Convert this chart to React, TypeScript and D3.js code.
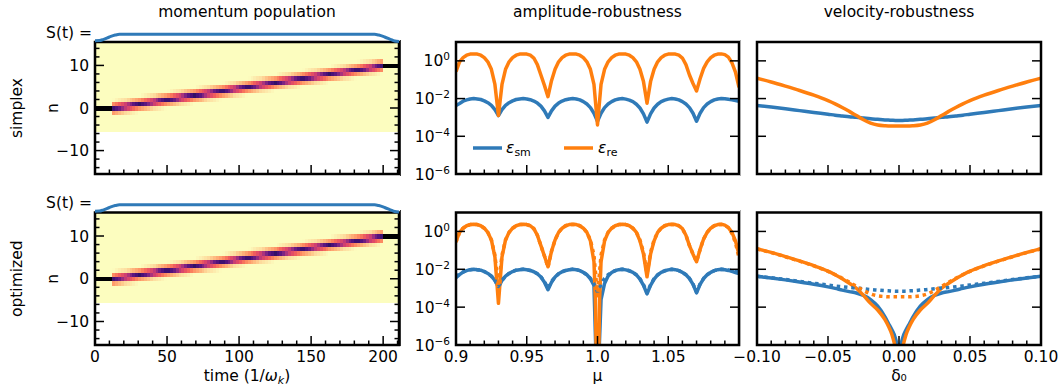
import React from 'react';
import * as d3 from 'd3';

const W = 1060;
const H = 388;
const FONT = 'DejaVu Sans, sans-serif';
const FS = 15.5;
const BLUE = '#2f7ab8';
const ORANGE = '#ff7f0e';

// ---- momentum population ----
const tEnd = 211;
const nRows = d3.range(-5, 16);
// times at which the population sits on n = 0, 1, ... 10
const stepTimes = [12, 31, 50, 69, 88, 106, 125, 144, 163, 182, 200];
// population vs distance from the band centre
const bandDist = [0, 0.25, 0.5, 1, 1.5, 2];
const bandPop = [0.82, 0.7, 0.45, 0.22, 0.07, 0];
// S(t) envelope
const sTimes = [0, 3, 6, 10, 14, 17, 194, 197, 201, 205, 208, 211];
const sVals = [0.17, 0.18, 0.35, 0.65, 0.9, 1, 1, 0.9, 0.65, 0.35, 0.12, 0.05];

// ---- amplitude robustness (log10 of error) ----
const muGrid = d3.range(81).map(i => +(0.9 + i * 0.0025).toFixed(4));
const ampSmSimplex = [
  -2.37, -2.26, -2.14, -2.07, -2.02, -2.0, -2.02, -2.05, -2.12, -2.22, -2.36, -2.59, -2.9,
  -2.59, -2.36, -2.22, -2.12, -2.05, -2.02, -2.0, -2.02, -2.06, -2.13, -2.24, -2.4, -2.65, -3.0,
  -2.65, -2.4, -2.24, -2.13, -2.06, -2.02, -2.0, -2.02, -2.07, -2.16, -2.29, -2.48, -2.78, -3.2,
  -2.78, -2.48, -2.29, -2.16, -2.07, -2.02, -2.0, -2.03, -2.08, -2.16, -2.3, -2.5, -2.81, -3.25,
  -2.81, -2.5, -2.3, -2.16, -2.08, -2.03, -2.0, -2.02, -2.07, -2.16, -2.29, -2.48, -2.78, -3.2,
  -2.78, -2.48, -2.29, -2.16, -2.07, -2.02, -2.0, -2.01, -2.04, -2.07, -2.1, -2.14,
];
const ampReSimplex = [
  -0.57, -0.05, 0.17, 0.3, 0.36, 0.37, 0.36, 0.3, 0.17, -0.05, -0.45, -1.25, -2.9,
  -1.25, -0.45, -0.05, 0.17, 0.3, 0.36, 0.37, 0.36, 0.3, 0.15, -0.2, -0.75, -1.3, -1.9,
  -1.05, -0.45, -0.05, 0.17, 0.3, 0.36, 0.37, 0.36, 0.3, 0.17, -0.05, -0.45, -1.25, -3.4,
  -1.25, -0.45, -0.05, 0.17, 0.3, 0.36, 0.37, 0.36, 0.3, 0.17, -0.05, -0.45, -1.1, -2.25,
  -1.1, -0.45, -0.05, 0.17, 0.3, 0.36, 0.37, 0.36, 0.3, 0.15, -0.2, -0.75, -1.2, -1.6,
  -0.95, -0.4, -0.05, 0.17, 0.3, 0.36, 0.37, 0.33, 0.2, -0.1, -0.6, -1.4,
];
const ampSmOpt = [
  -2.44, -2.28, -2.15, -2.07, -2.02, -2.0, -2.02, -2.05, -2.12, -2.22, -2.36, -2.59, -2.95,
  -2.59, -2.36, -2.22, -2.12, -2.05, -2.02, -2.0, -2.02, -2.06, -2.13, -2.24, -2.41, -2.68, -3.08,
  -2.68, -2.41, -2.24, -2.13, -2.06, -2.02, -2.0, -2.02, -2.07, -2.16, -2.29, -2.5, -2.85, -8,
  -3.6, -2.75, -2.35, -2.17, -2.07, -2.02, -2.0, -2.03, -2.08, -2.16, -2.3, -2.52, -2.85, -3.3,
  -2.85, -2.52, -2.3, -2.16, -2.08, -2.03, -2.0, -2.02, -2.07, -2.16, -2.29, -2.49, -2.8, -3.25,
  -2.8, -2.49, -2.29, -2.16, -2.07, -2.02, -2.0, -2.02, -2.06, -2.11, -2.17, -2.23,
];
const ampReOpt = [
  -0.53, -0.05, 0.17, 0.3, 0.36, 0.38, 0.36, 0.3, 0.17, -0.05, -0.45, -1.35, -3.8,
  -1.35, -0.45, -0.05, 0.17, 0.3, 0.36, 0.38, 0.36, 0.3, 0.15, -0.2, -0.75, -1.3, -1.87,
  -1.05, -0.45, -0.05, 0.17, 0.3, 0.36, 0.38, 0.36, 0.3, 0.17, -0.05, -0.5, -1.6, -9,
  -1.6, -0.5, -0.05, 0.17, 0.3, 0.36, 0.38, 0.36, 0.3, 0.17, -0.05, -0.5, -1.2, -2.4,
  -1.2, -0.5, -0.05, 0.17, 0.3, 0.36, 0.38, 0.36, 0.3, 0.15, -0.2, -0.75, -1.2, -1.6,
  -0.95, -0.4, -0.05, 0.17, 0.3, 0.36, 0.38, 0.33, 0.2, -0.05, -0.5, -1.24,
];
// extra points of the deep dip at mu = 1 (optimized)
const ampSmOptDip = [[0.9988, -6.2], [1.0012, -6.2]];
const ampReOptDip = [[0.9985, -3.6], [0.9992, -7], [1.0008, -7], [1.0015, -3.6]];

// ---- velocity robustness (log10 of error) ----
const deltaGrid = [
  -0.1, -0.09, -0.08, -0.07, -0.06, -0.05, -0.045, -0.04, -0.035, -0.03, -0.025, -0.02, -0.015,
  -0.01, -0.0075, -0.005, -0.0025, -0.001, 0, 0.001, 0.0025, 0.005, 0.0075, 0.01, 0.015, 0.02,
  0.025, 0.03, 0.035, 0.04, 0.045, 0.05, 0.06, 0.07, 0.08, 0.09, 0.1,
];
const velSmSimplex = [
  -2.37, -2.45, -2.54, -2.64, -2.74, -2.83, -2.88, -2.92, -2.96, -2.99, -3.03, -3.07, -3.1,
  -3.13, -3.14, -3.15, -3.16, -3.16, -3.16, -3.16, -3.16, -3.15, -3.14, -3.13, -3.1, -3.07,
  -3.03, -2.99, -2.96, -2.92, -2.88, -2.83, -2.74, -2.64, -2.54, -2.45, -2.37,
];
const velReSimplex = [
  -0.92, -1.12, -1.34, -1.57, -1.82, -2.11, -2.28, -2.47, -2.68, -2.9, -3.12, -3.3, -3.4,
  -3.44, -3.45, -3.45, -3.45, -3.45, -3.45, -3.45, -3.45, -3.45, -3.45, -3.44, -3.4, -3.3,
  -3.12, -2.9, -2.68, -2.47, -2.28, -2.11, -1.82, -1.57, -1.34, -1.12, -0.92,
];
const velSmOpt = [
  -2.37, -2.46, -2.56, -2.67, -2.79, -2.93, -3.01, -3.1, -3.18, -3.25, -3.38, -3.6, -3.95,
  -4.5, -4.85, -5.2, -5.65, -6.2, -8, -6.2, -5.65, -5.2, -4.85, -4.5, -3.95, -3.6,
  -3.38, -3.25, -3.18, -3.1, -3.01, -2.93, -2.79, -2.67, -2.56, -2.46, -2.37,
];
const velReOpt = [
  -0.91, -1.11, -1.33, -1.56, -1.81, -2.1, -2.29, -2.5, -2.74, -3.0, -3.38, -3.8, -4.15,
  -4.65, -5.0, -5.45, -6.2, -7, -9, -7, -6.2, -5.45, -5.0, -4.65, -4.15, -3.8,
  -3.38, -3.0, -2.74, -2.5, -2.29, -2.1, -1.81, -1.56, -1.33, -1.11, -0.91,
];

// ---- layout ----
const colPop: [number, number] = [95, 399];
const colAmp: [number, number] = [456, 739];
const colVel: [number, number] = [757, 1041];
const rowsY: [number, number][] = [[42, 174], [212.5, 345]];

function bandValue(d: number) {
  if (d >= bandDist[bandDist.length - 1]) return 0;
  const i = d3.bisectRight(bandDist, d) - 1;
  const f = (d - bandDist[i]) / (bandDist[i + 1] - bandDist[i]);
  return bandPop[i] + f * (bandPop[i + 1] - bandPop[i]);
}

function population(t: number, n: number) {
  if (t < stepTimes[0]) return n === 0 ? 1 : 0;
  if (t >= stepTimes[stepTimes.length - 1]) return n === 10 ? 1 : 0;
  const k = d3.bisectRight(stepTimes, t) - 1;
  const c = k + (t - stepTimes[k]) / (stepTimes[k + 1] - stepTimes[k]);
  return bandValue(Math.abs(n - c));
}

type Sc = d3.ScaleLinear<number, number>;

function Ticks({ x, y, xMajor, xMinor, yMajor, yMinor }: {
  x: Sc; y: Sc; xMajor: number[]; xMinor: number[]; yMajor: number[]; yMinor: number[];
}) {
  const [x0, x1] = x.range();
  const [y1] = y.range();
  const big = 9, small = 4.5;
  const segs: [number, number, number, number][] = [];
  xMajor.forEach(v => segs.push([x(v), y1, x(v), y1 - big]));
  xMinor.forEach(v => segs.push([x(v), y1, x(v), y1 - small]));
  yMajor.forEach(v => {
    segs.push([x0, y(v), x0 + big, y(v)]);
    segs.push([x1, y(v), x1 - big, y(v)]);
  });
  yMinor.forEach(v => {
    segs.push([x0, y(v), x0 + small, y(v)]);
    segs.push([x1, y(v), x1 - small, y(v)]);
  });
  return (
    <g stroke="#000" strokeWidth={1.5}>
      {segs.map((s, i) => <line key={i} x1={s[0]} y1={s[1]} x2={s[2]} y2={s[3]} />)}
    </g>
  );
}

function Frame({ x, y }: { x: Sc; y: Sc }) {
  const [x0, x1] = x.range();
  const [y1, y0] = y.range();
  return <rect x={x0} y={y0} width={x1 - x0} height={y1 - y0} fill="none" stroke="#000" strokeWidth={2.5} />;
}

function PopPanel({ row, label, id }: { row: number; label: string; id: string }) {
  const [y0, y1] = rowsY[row];
  const x = d3.scaleLinear().domain([0, tEnd]).range(colPop);
  const y = d3.scaleLinear().domain([-15.5, 15.5]).range([y1, y0]);
  const sY = d3.scaleLinear().domain([0, 1]).range([y0, y0 - 7.7]);
  const dt = 2;
  const cols = d3.range(0, tEnd, dt);
  const sLine = d3.line<number>().x((d, i) => x(sTimes[i])).y(d => sY(d)).curve(d3.curveMonotoneX);
  const midY = (y0 + y1) / 2;
  return (
    <g>
      <clipPath id={id}><rect x={colPop[0]} y={y0} width={colPop[1] - colPop[0]} height={y1 - y0} /></clipPath>
      <g clipPath={`url(#${id})`} shapeRendering="crispEdges">
        {cols.map(t0 => nRows.map(n => {
          const t1 = Math.min(t0 + dt, tEnd);
          const v = population(t0 + dt / 2, n);
          return (
            <rect key={`${t0}-${n}`} x={x(t0)} y={y(n + 0.5)} width={x(t1) - x(t0) + 0.4}
              height={y(n - 0.5) - y(n + 0.5) + 0.4} fill={d3.interpolateMagma(1 - v)} />
          );
        }))}
      </g>
      <Ticks x={x} y={y} xMajor={[0, 50, 100, 150, 200]}
        xMinor={d3.range(10, 211, 10).filter(v => v % 50 !== 0)}
        yMajor={[-10, 0, 10]} yMinor={d3.range(-14, 15, 2).filter(v => v % 10 !== 0)} />
      <Frame x={x} y={y} />
      <path d={sLine(sVals) || ''} fill="none" stroke={BLUE} strokeWidth={3} />
      <text x={92} y={y0 - 4.5} textAnchor="end">S(t) =</text>
      {[-10, 0, 10].map(v => (
        <text key={v} x={89} y={y(v)} dy="0.36em" textAnchor="end">{v < 0 ? `\u2212${-v}` : v}</text>
      ))}
      <text transform={`translate(58,${midY}) rotate(-90)`} textAnchor="middle">n</text>
      <text transform={`translate(22,${midY}) rotate(-90)`} textAnchor="middle">{label}</text>
      {row === 1 && [0, 50, 100, 150, 200].map(v => (
        <text key={v} x={x(v)} y={362} textAnchor="middle">{v}</text>
      ))}
    </g>
  );
}

function LogLabels({ y, x }: { y: Sc; x: number }) {
  return (
    <g>
      {[0, -2, -4, -6].map(v => (
        <text key={v} x={x} y={y(v)} dy="0.36em" textAnchor="end">
          10<tspan dy={-6} fontSize={10.5}>{v === 0 ? '0' : `\u2212${-v}`}</tspan>
        </text>
      ))}
    </g>
  );
}

type Series = { pts: [number, number][]; color: string; dotted?: boolean; curve?: d3.CurveFactory };

function CurvePanel({ col, row, domain, series, id, xMajor, xMinor }: {
  col: [number, number]; row: number; domain: [number, number]; series: Series[]; id: string;
  xMajor: number[]; xMinor: number[];
}) {
  const [y0, y1] = rowsY[row];
  const x = d3.scaleLinear().domain(domain).range(col);
  const y = d3.scaleLinear().domain([-6, 1]).range([y1, y0]);
  return (
    <g>
      <clipPath id={id}><rect x={col[0]} y={y0} width={col[1] - col[0]} height={y1 - y0} /></clipPath>
      <g clipPath={`url(#${id})`} fill="none">
        {series.map((s, i) => {
          const line = d3.line<[number, number]>().x(d => x(d[0])).y(d => y(d[1])).curve(s.curve || d3.curveLinear);
          return (
            <path key={i} d={line(s.pts) || ''} stroke={s.color} strokeWidth={3.5}
              strokeDasharray={s.dotted ? '3.5 3.8' : undefined} strokeLinejoin="round" />
          );
        })}
      </g>
      <Ticks x={x} y={y} xMajor={xMajor} xMinor={xMinor} yMajor={[-4, -2, 0]} yMinor={[]} />
      <Frame x={x} y={y} />
    </g>
  );
}

const zipPts = (xs: number[], ys: number[]) => xs.map((v, i) => [v, ys[i]] as [number, number]);
const withDip = (base: [number, number][], dip: number[][]) =>
  [...base, ...dip.map(d => [d[0], d[1]] as [number, number])].sort((a, b) => a[0] - b[0]);

export default function App() {
  const muMajor = [0.9, 0.95, 1.0, 1.05, 1.1];
  const muMinor = d3.range(1, 20).filter(i => i % 5 !== 0).map(i => 0.9 + i * 0.01);
  const dMajor = [-0.1, -0.05, 0, 0.05, 0.1];
  const dMinor = d3.range(-9, 10).filter(i => i % 5 !== 0).map(i => i * 0.01);
  const ampY = (row: number) => d3.scaleLinear().domain([-6, 1]).range([rowsY[row][1], rowsY[row][0]]);
  const mono = d3.curveMonotoneX;
  const muX = d3.scaleLinear().domain([0.9, 1.1]).range(colAmp);
  const dX = d3.scaleLinear().domain([-0.1, 0.1]).range(colVel);
  const dLabels = ['\u22120.10', '\u22120.05', '0.00', '0.05', '0.10'];
  return (
    <svg width={W} height={H} style={{ position: 'absolute', left: 0, top: 0 }}
      fontFamily={FONT} fontSize={FS} fill="#000">
      <rect width={W} height={H} fill="#fff" />
      <text x={247} y={17} textAnchor="middle">momentum population</text>
      <text x={597.5} y={17} textAnchor="middle">amplitude-robustness</text>
      <text x={899} y={17} textAnchor="middle">velocity-robustness</text>

      <PopPanel row={0} label="simplex" id="cp0" />
      <PopPanel row={1} label="optimized" id="cp1" />

      <CurvePanel col={colAmp} row={0} domain={[0.9, 1.1]} id="ca0" xMajor={muMajor} xMinor={muMinor}
        series={[
          { pts: zipPts(muGrid, ampSmSimplex), color: BLUE },
          { pts: zipPts(muGrid, ampReSimplex), color: ORANGE },
        ]} />
      <CurvePanel col={colAmp} row={1} domain={[0.9, 1.1]} id="ca1" xMajor={muMajor} xMinor={muMinor}
        series={[
          { pts: withDip(zipPts(muGrid, ampSmOpt), ampSmOptDip), color: BLUE },
          { pts: withDip(zipPts(muGrid, ampReOpt), ampReOptDip), color: ORANGE },
          { pts: zipPts(muGrid, ampSmSimplex), color: BLUE, dotted: true },
          { pts: zipPts(muGrid, ampReSimplex), color: ORANGE, dotted: true },
        ]} />
      <CurvePanel col={colVel} row={0} domain={[-0.1, 0.1]} id="cv0" xMajor={dMajor} xMinor={dMinor}
        series={[
          { pts: zipPts(deltaGrid, velSmSimplex), color: BLUE, curve: mono },
          { pts: zipPts(deltaGrid, velReSimplex), color: ORANGE, curve: mono },
        ]} />
      <CurvePanel col={colVel} row={1} domain={[-0.1, 0.1]} id="cv1" xMajor={dMajor} xMinor={dMinor}
        series={[
          { pts: zipPts(deltaGrid, velSmOpt), color: BLUE, curve: mono },
          { pts: zipPts(deltaGrid, velReOpt), color: ORANGE, curve: mono },
          { pts: zipPts(deltaGrid, velSmSimplex), color: BLUE, dotted: true, curve: mono },
          { pts: zipPts(deltaGrid, velReSimplex), color: ORANGE, dotted: true, curve: mono },
        ]} />

      <LogLabels y={ampY(0)} x={450} />
      <LogLabels y={ampY(1)} x={450} />

      {/* legend */}
      <line x1={473} x2={502} y1={148} y2={148} stroke={BLUE} strokeWidth={3.5} />
      <text x={506} y={153}><tspan fontStyle="italic">ε</tspan><tspan dy={3} fontSize={11}>sm</tspan></text>
      <line x1={564} x2={593} y1={148} y2={148} stroke={ORANGE} strokeWidth={3.5} />
      <text x={598} y={153}><tspan fontStyle="italic">ε</tspan><tspan dy={3} fontSize={11}>re</tspan></text>

      {/* bottom tick labels and axis labels */}
      {[0.9, 0.95, 1.0, 1.05].map((v, i) => (
        <text key={v} x={muX(v)} y={362} textAnchor="middle">{['0.9', '0.95', '1.0', '1.05'][i]}</text>
      ))}
      {dMajor.map((v, i) => (
        <text key={v} x={dX(v)} y={362} textAnchor="middle">{dLabels[i]}</text>
      ))}
      <text x={247} y={381} textAnchor="middle">
        time (1/<tspan fontStyle="italic">ω</tspan><tspan fontStyle="italic" fontSize={11} dy={3}>k</tspan><tspan dy={-3}>)</tspan>
      </text>
      <text x={597.5} y={381} textAnchor="middle">μ</text>
      <text x={899} y={381} textAnchor="middle">δ₀</text>

      {/* panel edge lines */}
      <line x1={400.5} x2={400.5} y1={40} y2={176} stroke="#333" strokeWidth={1} />
      <line x1={400.5} x2={400.5} y1={210} y2={346} stroke="#333" strokeWidth={1} />
      <line x1={740.5} x2={740.5} y1={40} y2={176} stroke="#aaa" strokeWidth={1} />
      <line x1={740.5} x2={740.5} y1={210} y2={346} stroke="#aaa" strokeWidth={1} />
    </svg>
  );
}
